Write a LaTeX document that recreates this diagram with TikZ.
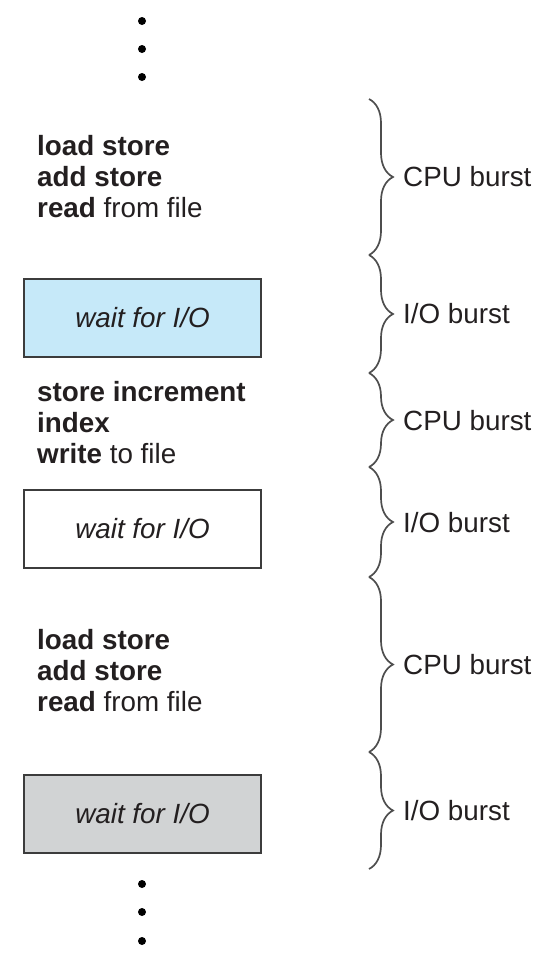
\documentclass[tikz,border=0pt]{standalone}
\usepackage{fontspec}
\setmainfont{Liberation Sans}
\usetikzlibrary{decorations.pathreplacing}
\definecolor{ioblue}{HTML}{C6E9F9}
\definecolor{iogray}{HTML}{D1D3D4}
\definecolor{edgegray}{HTML}{3C3C3C}
\definecolor{bracegray}{HTML}{4E4E4E}
\definecolor{txt}{HTML}{231F20}
\tikzset{
  iobox/.style={draw=edgegray, line width=2bp, minimum width=237bp, minimum height=78bp,
    inner sep=0pt, text=txt, font=\fontsize{27.8bp}{31bp}\selectfont\itshape},
  code/.style={anchor=base west, inner sep=0pt, align=left, text=txt,
    font=\fontsize{27.8bp}{31bp}\selectfont},
  lbl/.style={anchor=west, inner sep=0pt, text=txt, font=\fontsize{27.8bp}{31bp}\selectfont},
  brc/.style={draw=bracegray, line width=1.7bp, decorate,
    decoration={brace, amplitude=24bp, aspect=0.5}},
  vdot/.style={circle, fill=black, inner sep=0pt, minimum size=8bp}
}
\begin{document}
\begin{tikzpicture}[x=1bp, y=-1bp]
\useasboundingbox (0,0) rectangle (552,954);
% dots
\node[vdot] (t1) at (142,21) {};
\node[vdot] (t2) at (142,49) {};
\node[vdot] (t3) at (142,77) {};
\node[vdot] (d1) at (142,884) {};
\node[vdot] (d2) at (142,912) {};
\node[vdot] (d3) at (142,941) {};
% code blocks (anchored at baseline of last line)
\node[code] (cpu1) at (37,217) {\textbf{load store}\\\textbf{add store}\\\textbf{read} from file};
\node[code] (cpu2) at (37,463) {\textbf{store increment}\\\textbf{index}\\\textbf{write} to file};
\node[code] (cpu3) at (37,711) {\textbf{load store}\\\textbf{add store}\\\textbf{read} from file};
% wait boxes
\node[iobox, fill=ioblue] (io1) at (142.5,318) {wait for I/O};
\node[iobox, fill=white] (io2) at (142.5,528.5) {wait for I/O};
\node[iobox, fill=iogray] (io3) at (142.5,813.5) {wait for I/O};
% brace boundaries
\coordinate (b0) at (369,99);
\coordinate (b1) at (369,255);
\coordinate (b2) at (369,373);
\coordinate (b3) at (369,467);
\coordinate (b4) at (369,577);
\coordinate (b5) at (369,752);
\coordinate (b6) at (369,869);
\draw[brc] (b0) -- (b1);
\draw[brc] (b1) -- (b2);
\draw[brc] (b2) -- (b3);
\draw[brc] (b3) -- (b4);
\draw[brc] (b4) -- (b5);
\draw[brc] (b5) -- (b6);
% labels
\node[lbl] (l1) at (403,177) {CPU burst};
\node[lbl] (l2) at (403,314) {I/O burst};
\node[lbl] (l3) at (403,421) {CPU burst};
\node[lbl] (l4) at (403,523) {I/O burst};
\node[lbl] (l5) at (403,665) {CPU burst};
\node[lbl] (l6) at (403,811) {I/O burst};
\end{tikzpicture}
\end{document}
